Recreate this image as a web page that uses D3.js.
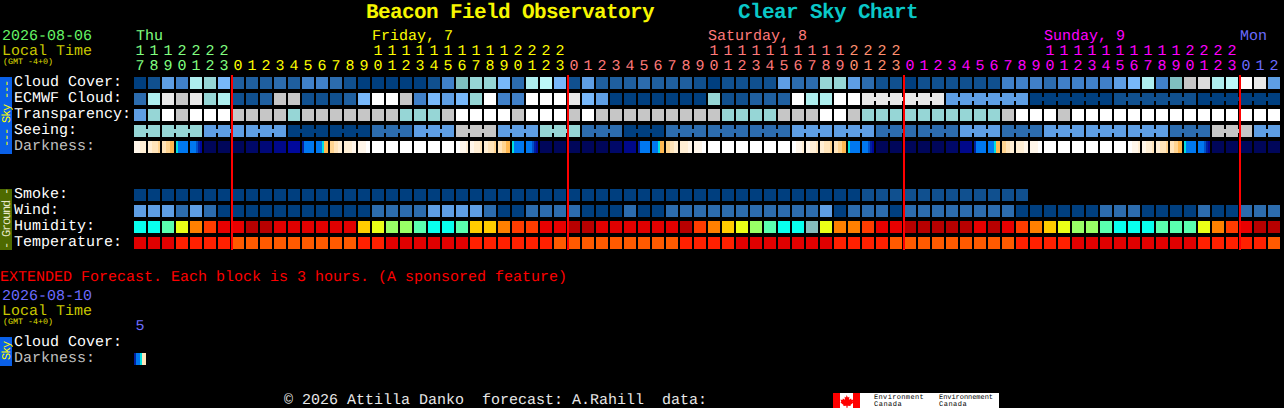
<!DOCTYPE html>
<html>
<head>
<meta charset="utf-8">
<title>Beacon Field Observatory Clear Sky Chart</title>
<script src="https://cdnjs.cloudflare.com/ajax/libs/d3/7.8.5/d3.min.js"></script>
<style>
html,body{margin:0;padding:0;background:#000;overflow:hidden}
svg{display:block}
text{font-family:"Liberation Mono",monospace;white-space:pre;text-rendering:geometricPrecision}
</style>
</head>
<body>
<svg id="chart" width="1284" height="408"></svg>
<script>
// ---- Data ----------------------------------------------------
const hours = [17,18,19,20,21,22,23,
  0,1,2,3,4,5,6,7,8,9,10,11,12,13,14,15,16,17,18,19,20,21,22,23,
  0,1,2,3,4,5,6,7,8,9,10,11,12,13,14,15,16,17,18,19,20,21,22,23,
  0,1,2,3,4,5,6,7,8,9,10,11,12,13,14,15,16,17,18,19,20,21,22,23,
  0,1,2];
const skyPalette = ["#003f7f","#10508f","#1f5f9f","#2c6cae","#4080c8","#5e9ee4","#78b8fa","#7fbfbf","#96d6d6","#aeeeee","#bdf8f8","#c6c6c6","#dcdcdc","#e9e9e9","#ffffff"];
const cloudCover = [0,1,5,4,9,8,6,2,2,2,3,2,4,4,3,1,0,0,0,0,0,1,4,7,8,8,6,3,9,10,6,1,5,2,2,2,3,2,2,2,1,0,1,1,1,1,5,3,3,8,8,5,3,1,1,0,1,1,1,1,1,1,4,4,4,3,4,4,4,4,5,6,9,4,7,11,12,9,10,14,13,5];
const ecmwfCloud = [3,9,13,11,13,8,9,1,1,2,11,11,1,1,1,2,6,14,14,11,4,6,5,6,8,14,4,4,14,14,14,13,6,5,0,0,0,0,0,0,0,8,1,1,2,2,2,14,9,9,14,14,13,13,13,13,13,13,5,5,5,5,5,5,0,0,0,0,0,0,1,1,1,1,1,1,0,0,0,0,0,0];
const transparency = [5,8,14,11,14,14,14,11,11,11,11,8,11,11,11,11,11,11,11,8,8,8,11,14,14,14,14,11,14,14,14,11,14,11,11,11,11,11,11,11,11,11,8,8,8,8,11,11,11,14,14,11,8,8,8,8,8,8,8,8,8,8,11,14,14,14,11,14,14,14,14,14,14,14,14,14,14,14,14,14,14,14];
const seeing = [8,8,8,8,8,5,5,5,5,5,5,0,0,0,0,0,0,3,3,3,5,5,5,11,11,11,5,5,5,8,8,8,3,3,3,0,0,0,3,3,3,3,3,3,3,3,3,5,5,5,5,5,5,3,3,3,3,3,3,5,5,5,3,3,3,5,5,5,5,5,5,5,5,5,3,3,3,11,11,11,5,5];
const smoke = [0,0,0,0,0,0,0,0,0,0,0,0,0,0,0,0,0,0,0,0,0,0,0,0,0,0,0,0,0,0,0,0,0,0,0,0,0,0,0,0,0,0,0,0,0,0,0,0,0,0,0,0,1,1,1,1,1,1,1,1,1,1,1,1];
const wind = [5,5,5,3,5,3,0,0,0,0,0,0,0,0,0,0,0,3,3,3,3,5,5,5,5,3,0,0,3,3,3,3,0,0,0,3,0,0,3,3,3,3,3,3,3,3,3,3,3,5,0,3,3,3,0,3,3,3,3,3,3,3,3,0,0,0,0,0,0,3,3,3,0,0,0,0,3,0,0,3,3,3];
const groundPalette = ["#08ffee","#5affaf","#99ff66","#eaff17","#ffcc00","#ff8000","#ff3c00","#e80000","#b80000","#85bdbd","#e00000","#ff2000","#ff5a00"];
const humidity = [0,0,1,3,5,6,7,7,8,8,10,10,10,10,10,10,4,3,2,2,1,0,0,1,4,4,5,6,6,7,7,8,8,10,10,10,10,10,10,8,6,5,4,3,2,1,0,0,9,3,5,5,6,7,7,8,8,8,8,8,7,8,7,6,5,4,3,2,2,1,0,0,0,1,1,1,3,5,6,7,8,8];
const temperature = [10,10,10,11,11,11,11,12,12,12,12,12,12,12,12,12,11,11,10,10,10,10,10,10,11,11,11,11,11,11,12,12,12,12,12,12,12,12,12,11,11,11,11,10,10,10,10,10,10,10,11,11,11,11,12,12,12,12,12,12,12,12,12,11,11,11,11,10,10,10,10,10,10,10,10,10,11,11,11,11,11,12];
const darkPalette = ["#ffffff","#fff6ea","#ffeed4","#ffe4ba","#ffd490","#ffb850","#00e0e0","#0078f0","#0050c8","#0020a0","#00089c","#00088a","#000878","#000868","#00065a"];
const darkness = [
  [1,1,1,2,2,2],[2,2,3,3,3,4],[3,3,4,4,5,5],[6,7,7,7,7,7],[7,7,7,8,9,10],14,14,14,13,12,11,10,[9,7,7,7,7,7],[7,7,7,6,5,5],[4,4,3,3,2,2],[2,2,2,2,1,1],[1,1,1,1,0,0],
  0,0,0,0,0,0,[0,0,1,1,1,2],[1,1,2,2,2,3],[2,2,3,3,3,4],[3,3,4,4,5,5],[6,7,7,7,7,7],[7,7,7,8,9,10],14,14,14,14,14,13,11,[9,7,7,7,7,7],[7,7,7,6,5,5],[4,4,3,3,2,2],[2,2,2,2,1,1],[1,1,1,1,0,0],
  0,0,0,0,0,0,[0,0,1,1,1,2],[1,1,2,2,2,3],[2,2,3,3,3,4],[3,3,4,4,5,5],[6,7,7,7,7,7],[7,7,7,8,9,10],14,14,14,14,14,13,11,[9,7,7,7,7,7],[7,7,7,6,5,5],[4,4,3,3,2,2],[2,2,2,2,1,1],[1,1,1,1,0,0],
  0,0,0,0,0,0,[0,0,1,1,1,2],[1,1,2,2,2,3],[2,2,3,3,3,4],[3,3,4,4,5,5],[6,7,7,7,7,7],[7,7,7,8,9,10],14,14,14,14,14];
const extendedDarkness = [[9,7,7,6,3,3]];
const skyRows = ["Cloud Cover:","ECMWF Cloud:","Transparency:","Seeing:","Darkness:"];
const groundRows = ["Smoke:","Wind:","Humidity:","Temperature:"];
const dayLabels = [
  {col:0, text:"Thu", color:"#80ff80"},
  {col:17, text:"Friday, 7", color:"#ffff00"},
  {col:41, text:"Saturday, 8", color:"#ff7a7a"},
  {col:65, text:"Sunday, 9", color:"#ff00ff"},
  {col:79, text:"Mon", color:"#6c6cff"}
];
const dayStartCols = [0,7,31,55,79];
const dayColors = ["#80ff80","#ffff00","#ff7a7a","#ff00ff","#6c6cff"];
const nowCols = [7,31,55,79];

// ---- Drawing -------------------------------------------------
const svg = d3.select("#chart");
const columns = d3.range(hours.length);
const x = d3.scaleBand().domain(columns).range([134, 134 + 82*14 - 2]).paddingInner(2/14).paddingOuter(0);
const skyColor = d3.scaleOrdinal().domain(d3.range(skyPalette.length)).range(skyPalette);
const groundColor = d3.scaleOrdinal().domain(d3.range(groundPalette.length)).range(groundPalette);
const darkColor = d3.scaleOrdinal().domain(d3.range(darkPalette.length)).range(darkPalette);
const rowY = {cloud:77,ecmwf:93,trans:109,seeing:125,dark:141,smoke:189,wind:205,humid:221,temp:237};
const cellH = 12;
const BODY = 15;

function text(sel, s, px, py, size, color, opts){
  opts = opts || {};
  return sel.append("text").attr("x",px).attr("y",py)
    .attr("font-size",size).attr("fill",color)
    .attr("font-weight",opts.bold?"bold":"normal")
    .attr("letter-spacing",opts.ls===undefined?null:opts.ls)
    .attr("text-anchor",opts.anchor||"start")
    .attr("transform",opts.transform||null)
    .text(s);
}

function row(values, key, colorScale){
  svg.append("g").selectAll("rect").data(values).join("rect")
    .attr("x",(d,i)=>x(i)).attr("y",rowY[key])
    .attr("width",x.bandwidth()).attr("height",cellH)
    .attr("fill",d=>colorScale(d));
}
function joiners(values, key, joined){
  const links = d3.range(values.length-1).filter(joined);
  svg.append("g").selectAll("rect").data(links).join("rect")
    .attr("x",k=>x(k)+x.bandwidth()).attr("y",rowY[key]+4)
    .attr("width",x.step()-x.bandwidth()).attr("height",4)
    .attr("fill",k=>skyColor(values[k]));
}
function darkRow(values, scale, top){
  const g = svg.append("g");
  values.forEach((v,i)=>{
    const parts = Array.isArray(v) ? v : [v];
    const sub = d3.scaleBand().domain(d3.range(parts.length)).range([scale(i), scale(i)+scale.bandwidth()]);
    g.selectAll(null).data(parts).join("rect")
      .attr("x",(d,j)=>sub(j)).attr("y",top)
      .attr("width",sub.bandwidth()).attr("height",cellH)
      .attr("fill",d=>darkColor(d));
  });
}

// titles
text(svg,"Beacon Field Observatory",366,18,21,"#f6f600",{bold:true,ls:-0.6});
text(svg,"Clear Sky Chart",738,18,21,"#0ac8c8",{bold:true,ls:-0.6});

// left header
text(svg,"2026-08-06",2,40,BODY,"#66f566");
text(svg,"Local Time",2,55,BODY,"#c8c800");
text(svg,"(GMT -4+0)",3,64,8.33,"#e0e000");

// day labels
dayLabels.forEach(d=> text(svg,d.text,d.col===0?136:x(d.col),40,BODY,d.color));

// hour axes
const colorOf = c => {
  const idx = d3.bisectRight(dayStartCols,c)-1;
  if (idx===2 && hours[c]>=20) return "#ff9070";
  return dayColors[idx];
};
const onesAxis = d3.axisTop(x).tickSize(0).tickPadding(0).tickFormat(c=>String(hours[c]%10));
const tensAxis = d3.axisTop(x).tickSize(0).tickPadding(0)
  .tickValues(columns.filter(c=>hours[c]>=10)).tickFormat(c=>String(Math.floor(hours[c]/10)));
[[onesAxis,70],[tensAxis,55]].forEach(([axis,py])=>{
  const g = svg.append("g").attr("transform",`translate(0,${py})`).call(axis);
  g.select(".domain").remove();
  g.attr("font-family",null).attr("font-size",null);
  g.selectAll("text").attr("font-size",BODY).attr("dy",0).attr("y",0)
    .attr("fill",c=>colorOf(c));
});

// side strips
svg.append("rect").attr("x",0).attr("y",77).attr("width",12).attr("height",77).attr("fill","#0a60e8");
svg.append("rect").attr("x",0).attr("y",189).attr("width",12).attr("height",61).attr("fill","#4e6a00");
svg.append("rect").attr("x",0).attr("y",337).attr("width",12).attr("height",29).attr("fill","#0a60e8");
text(svg,"--- Sky ---",0,0,12,"#ffff00",{anchor:"middle",ls:-1.2,transform:"translate(10,114) rotate(-90)"});
text(svg,"- Ground -",0,0,12,"#e8e8c8",{anchor:"middle",ls:-1.2,transform:"translate(10,219) rotate(-90)"});
text(svg,"Sky",0,0,12,"#ffff00",{anchor:"middle",ls:-1.2,transform:"translate(10,351) rotate(-90)"});

// row labels
const skyBase = [86,102,118,134,150];
skyRows.forEach((s,i)=> text(svg,s,14,skyBase[i],BODY,s==="Darkness:"?"#c0c0c0":"#ffffff"));
const groundBase = [198,214,230,246];
groundRows.forEach((s,i)=> text(svg,s,14,groundBase[i],BODY,"#ffffff"));

// rows
row(cloudCover,"cloud",skyColor);
row(ecmwfCloud,"ecmwf",skyColor);
joiners(ecmwfCloud,"ecmwf",k=>k>=52 && (k+1-52)%6!==0);
row(transparency,"trans",skyColor);
row(seeing,"seeing",skyColor);
joiners(seeing,"seeing",k=>(k+1)%3!==2);
darkRow(darkness,x,rowY.dark);
row(smoke,"smoke",skyColor);
row(wind,"wind",skyColor);
row(humidity,"humid",groundColor);
row(temperature,"temp",groundColor);

// current-day markers
svg.append("g").selectAll("rect").data(nowCols).join("rect")
  .attr("x",c=>x(c)-1).attr("y",75).attr("width",2).attr("height",175).attr("fill","#ff0000");

// extended forecast
text(svg,"EXTENDED Forecast. Each block is 3 hours. (A sponsored feature)",0,281,BODY,"#ff0000");
text(svg,"2026-08-10",2,300,BODY,"#6c6cff");
text(svg,"Local Time",2,315,BODY,"#c8c800");
text(svg,"(GMT -4+0)",3,324,8.33,"#e0e000");
text(svg,"5",x(0)+6,330,BODY,"#6c6cff",{anchor:"middle"});
text(svg,"Cloud Cover:",14,346,BODY,"#ffffff");
text(svg,"Darkness:",14,362,BODY,"#c0c0c0");
darkRow(extendedDarkness,x,353);

// footer
text(svg,"\u00a9 2026 Attilla Danko  forecast: A.Rahill  data:",284,404,BODY,"#e8e8e8");
svg.append("rect").attr("x",833).attr("y",393).attr("width",166).attr("height",15).attr("fill","#ffffff");
svg.append("rect").attr("x",833).attr("y",393).attr("width",7).attr("height",15).attr("fill","#ff0000");
svg.append("rect").attr("x",853).attr("y",393).attr("width",7).attr("height",15).attr("fill","#ff0000");
svg.append("path").attr("fill","#ff0000")
  .attr("d","M846.5 395l1.4 2.6 1.6-.8-.6 3 2.2-1.4.5 1.5 1.9-.3-.8 2.4.9.5-3.2 2.4.4 1.2-3.2-.4v2h-1.2v-2l-3.2.4.4-1.2-3.2-2.4.9-.5-.8-2.4 1.9.3.5-1.5 2.2 1.4-.6-3 1.6.8z");
text(svg,"Environment",874,399,7,"#000",{ls:0.35});
text(svg,"Canada",874,406.4,7,"#000",{ls:0.5});
text(svg,"Environnement",939,399,7,"#000",{ls:-0.05});
text(svg,"Canada",939,406.4,7,"#000",{ls:0.5});
</script>
</body>
</html>
